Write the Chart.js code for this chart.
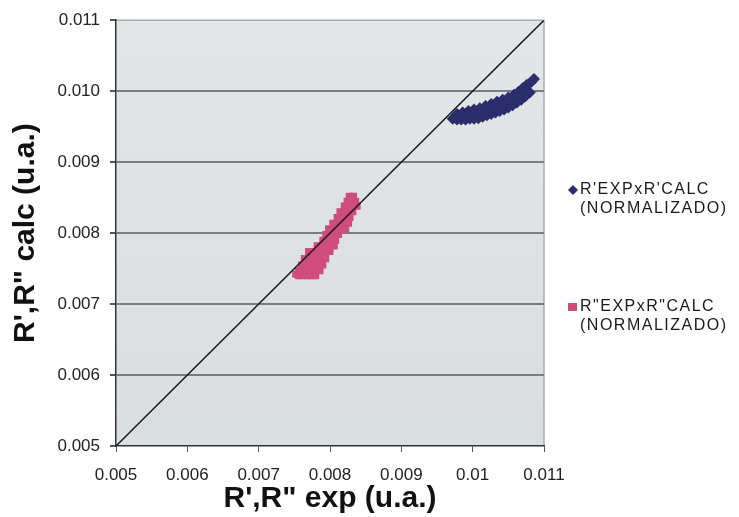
<!DOCTYPE html>
<html>
<head>
<meta charset="utf-8">
<script src="https://cdn.jsdelivr.net/npm/chart.js@4/dist/chart.umd.min.js"></script>
<style>
  html, body { margin: 0; padding: 0; background: #fff; }
  #wrap { width: 739px; height: 517px; }
</style>
</head>
<body>
<div id="wrap"><canvas id="chart" width="739" height="517"></canvas></div>
<script>
// axis ticks
const tickValues = [0.005, 0.006, 0.007, 0.008, 0.009, 0.010, 0.011];
const xTickLabels = ['0.005', '0.006', '0.007', '0.008', '0.009', '0.01', '0.011'];
const yTickLabels = ['0.005', '0.006', '0.007', '0.008', '0.009', '0.010', '0.011'];

// R' exp vs R' calc (normalizado)
const rPrimeExp = [
  0.00972, 0.00978, 0.00984, 0.0099, 0.00996, 0.01002, 0.01008, 0.01014, 0.0102, 0.01026,
  0.01032, 0.01038, 0.01044, 0.0105, 0.01056, 0.01062, 0.01068, 0.01074, 0.0108,
  0.00978, 0.00986, 0.00994, 0.01002, 0.0101, 0.01018, 0.01026, 0.01034, 0.01042, 0.0105,
  0.01058, 0.01064, 0.0107, 0.01076, 0.01082, 0.01086,
  0.00994, 0.01006, 0.01018, 0.0103, 0.01042, 0.01054, 0.01066, 0.01076];
const rPrimeCalc = [
  0.00961, 0.0096, 0.0096, 0.0096, 0.00961, 0.00961, 0.00962, 0.00964, 0.00966, 0.00968,
  0.0097, 0.00972, 0.00974, 0.00977, 0.0098, 0.00984, 0.00988, 0.00993, 0.00998,
  0.00968, 0.0097, 0.00972, 0.00974, 0.00976, 0.00979, 0.00982, 0.00985, 0.00988, 0.00991,
  0.00995, 0.00999, 0.01004, 0.01009, 0.01013, 0.01017,
  0.00966, 0.00968, 0.00971, 0.00975, 0.00979, 0.00984, 0.00991, 0.00999];

// R'' exp vs R'' calc (normalizado)
const rDoubleExp = [
  0.00752, 0.00756, 0.00762, 0.00768, 0.00774, 0.0078,
  0.00756, 0.00762, 0.00768, 0.00774, 0.0078, 0.00786,
  0.0076, 0.00766, 0.00772, 0.00778, 0.00784, 0.0079,
  0.00764, 0.0077, 0.00776, 0.00782, 0.00788, 0.00794,
  0.0077, 0.00776, 0.00782, 0.00788, 0.00794, 0.008,
  0.00782, 0.00788, 0.00794, 0.008, 0.00806,
  0.0079, 0.00796, 0.00802, 0.00808,
  0.00794, 0.008, 0.00806, 0.00812,
  0.00798, 0.00804, 0.0081, 0.00816, 0.00822,
  0.00804, 0.0081, 0.00816, 0.00822, 0.00826,
  0.0081, 0.00816, 0.00822, 0.00828,
  0.00814, 0.0082, 0.00826, 0.00832,
  0.0082, 0.00826, 0.00832, 0.00838,
  0.00824, 0.0083, 0.00836,
  0.00827, 0.00833];
const rDoubleCalc = [
  0.00742, 0.0074, 0.0074, 0.0074, 0.0074, 0.0074,
  0.00747, 0.00747, 0.00747, 0.00747, 0.00747, 0.00747,
  0.00755, 0.00755, 0.00755, 0.00755, 0.00755, 0.00755,
  0.00764, 0.00764, 0.00764, 0.00764, 0.00764, 0.00764,
  0.00774, 0.00774, 0.00774, 0.00774, 0.00774, 0.00774,
  0.00782, 0.00782, 0.00782, 0.00782, 0.00782,
  0.0079, 0.0079, 0.0079, 0.0079,
  0.00798, 0.00798, 0.00798, 0.00798,
  0.00806, 0.00806, 0.00806, 0.00806, 0.00806,
  0.00814, 0.00814, 0.00814, 0.00814, 0.00814,
  0.00822, 0.00822, 0.00822, 0.00822,
  0.0083, 0.0083, 0.0083, 0.0083,
  0.00838, 0.00838, 0.00838, 0.00838,
  0.00845, 0.00845, 0.00845,
  0.00852, 0.00852];

// y = x reference line
const diagX = [0.005, 0.011];
const diagY = [0.005, 0.011];

const legendLabels = [["R'EXPxR'CALC", "(NORMALIZADO)"], ['R"EXPxR"CALC', "(NORMALIZADO)"]];

const toPoints = (xs, ys) => xs.map((x, i) => ({ x: x, y: ys[i] }));

const plotBg = {
  id: 'plotBg',
  beforeDraw(chart) {
    const { ctx, chartArea: a } = chart;
    ctx.save();
    const g = ctx.createLinearGradient(0, a.top, 0, a.bottom);
    g.addColorStop(0, '#e3e6e8');
    g.addColorStop(1, '#d9dee1');
    ctx.fillStyle = g;
    ctx.fillRect(a.left, a.top, a.right - a.left, a.bottom - a.top);
    ctx.strokeStyle = '#a9adb0';
    ctx.lineWidth = 1.5;
    ctx.beginPath();
    ctx.moveTo(a.left, a.top);
    ctx.lineTo(a.right, a.top);
    ctx.lineTo(a.right, a.bottom);
    ctx.stroke();
    ctx.restore();
  }
};

const sideLegend = {
  id: 'sideLegend',
  afterDraw(chart) {
    const ctx = chart.ctx;
    const rows = [190, 307];
    ctx.save();
    ctx.font = '16px "Liberation Sans", Arial, sans-serif';
    ctx.letterSpacing = '1.5px';
    ctx.textBaseline = 'middle';
    rows.forEach((y, i) => {
      const ds = chart.data.datasets[i];
      ctx.fillStyle = ds.backgroundColor;
      if (i === 0) {
        ctx.beginPath();
        ctx.moveTo(573, y - 5); ctx.lineTo(578, y); ctx.lineTo(573, y + 5); ctx.lineTo(568, y);
        ctx.closePath(); ctx.fill();
      } else {
        ctx.fillRect(568, y - 4, 9, 8);
      }
      ctx.fillStyle = '#1a1a1a';
      ctx.fillText(legendLabels[i][0], 580, y);
      ctx.fillText(legendLabels[i][1], 580, y + 19);
    });
    ctx.restore();
  }
};

new Chart(document.getElementById('chart'), {
  type: 'scatter',
  data: {
    datasets: [
      {
        label: legendLabels[0].join(' '),
        data: toPoints(rPrimeExp, rPrimeCalc),
        backgroundColor: '#2b2d6c',
        borderColor: '#2b2d6c',
        pointStyle: 'rectRot',
        pointRadius: 6,
        borderWidth: 0
      },
      {
        label: legendLabels[1].join(' '),
        data: toPoints(rDoubleExp, rDoubleCalc),
        backgroundColor: '#cf4d7b',
        borderColor: '#cf4d7b',
        pointStyle: 'rect',
        pointRadius: 5,
        borderWidth: 0
      },
      {
        label: 'y = x',
        data: toPoints(diagX, diagY),
        showLine: true,
        borderColor: '#1a1a1a',
        borderWidth: 1.5,
        pointRadius: 0,
        order: -1
      }
    ]
  },
  options: {
    responsive: false,
    animation: false,
    layout: { padding: { top: 20, right: 195, left: 0, bottom: 0 } },
    plugins: { legend: { display: false }, tooltip: { enabled: false } },
    scales: {
      x: {
        type: 'linear',
        min: 0.005, max: 0.011,
        afterBuildTicks: s => { s.ticks = tickValues.map(v => ({ value: v })); },
        afterFit: s => { s.height = 71; },
        ticks: {
          callback: (v, i) => xTickLabels[i],
          color: '#222',
          font: { family: '"Liberation Sans", Arial, sans-serif', size: 17 },
          padding: 13,
          maxRotation: 0
        },
        grid: { drawOnChartArea: false, color: '#555', tickLength: 6 },
        border: { color: '#333', width: 1.5 },
        title: {
          display: true,
          text: 'R\',R" exp (u.a.)',
          color: '#111',
          font: { family: '"Liberation Sans", Arial, sans-serif', size: 30, weight: 'bold' },
          padding: { top: 0, bottom: 0 }
        }
      },
      y: {
        type: 'linear',
        min: 0.005, max: 0.011,
        afterBuildTicks: s => { s.ticks = tickValues.map(v => ({ value: v })); },
        afterFit: s => { s.width = 116; },
        ticks: {
          callback: (v, i) => yTickLabels[i],
          color: '#222',
          font: { family: '"Liberation Sans", Arial, sans-serif', size: 17 },
          padding: 10
        },
        grid: {
          color: ctx => (ctx.tick && (ctx.tick.value === 0.005 || ctx.tick.value === 0.011)) ? 'rgba(0,0,0,0)' : '#7b7e80',
          lineWidth: 2,
          tickLength: 6,
          tickColor: '#555'
        },
        border: { color: '#333', width: 1.5 },
        title: {
          display: true,
          text: 'R\',R" calc (u.a.)',
          color: '#111',
          font: { family: '"Liberation Sans", Arial, sans-serif', size: 30, weight: 'bold' },
          padding: { top: 8, bottom: 0 }
        }
      }
    }
  },
  plugins: [plotBg, sideLegend]
});
</script>
</body>
</html>
